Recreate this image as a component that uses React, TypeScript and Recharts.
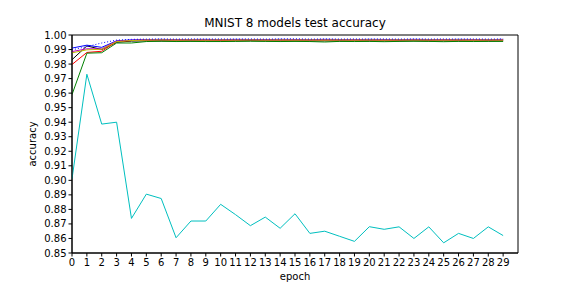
import { LineChart, Line, XAxis, YAxis, ReferenceArea } from 'recharts';

const epochs = Array.from({ length: 30 }, (_, i) => i);

const blueAcc = [0.991, 0.993, 0.9915, 0.996, 0.9966, 0.9968, 0.997, 0.9968, 0.9969, 0.997, 0.9968, 0.997, 0.9969, 0.9968, 0.997, 0.9969, 0.9968, 0.997, 0.9969, 0.9968, 0.997, 0.9969, 0.9968, 0.997, 0.9969, 0.9968, 0.997, 0.9969, 0.9968, 0.997];
const blueDotAcc = [0.9898, 0.992, 0.9945, 0.9965, 0.997, 0.9972, 0.9973, 0.9972, 0.9973, 0.9972, 0.9973, 0.9972, 0.9973, 0.9972, 0.9973, 0.9974, 0.9972, 0.9973, 0.9972, 0.9973, 0.9972, 0.9973, 0.9972, 0.9973, 0.9972, 0.9973, 0.9972, 0.9973, 0.9972, 0.9973];
const blackAcc = [0.983, 0.9925, 0.99, 0.995, 0.9958, 0.996, 0.9959, 0.996, 0.9959, 0.996, 0.9959, 0.996, 0.9961, 0.996, 0.9959, 0.996, 0.9959, 0.996, 0.9959, 0.996, 0.9959, 0.996, 0.9959, 0.996, 0.9959, 0.996, 0.9959, 0.996, 0.9959, 0.996];
const redAcc = [0.9797, 0.988, 0.9888, 0.9955, 0.9962, 0.9964, 0.9965, 0.9964, 0.9965, 0.9964, 0.9963, 0.9964, 0.9965, 0.9964, 0.9965, 0.9964, 0.9965, 0.9964, 0.9965, 0.9964, 0.9965, 0.9963, 0.9964, 0.9965, 0.9964, 0.9965, 0.9964, 0.9965, 0.9964, 0.9965];
const greenAcc = [0.959, 0.9875, 0.9878, 0.9945, 0.9945, 0.9955, 0.9957, 0.9955, 0.9956, 0.9955, 0.9955, 0.9956, 0.9957, 0.9956, 0.9955, 0.9956, 0.9955, 0.9952, 0.9956, 0.9955, 0.9956, 0.9954, 0.9956, 0.9957, 0.9956, 0.9954, 0.9956, 0.9955, 0.9956, 0.9956];
const yellowAcc = [0.9877, 0.9898, 0.9902, 0.9955, 0.9962, 0.9965, 0.9966, 0.9965, 0.9966, 0.9965, 0.9966, 0.9965, 0.9966, 0.9965, 0.9966, 0.9965, 0.9966, 0.9965, 0.9966, 0.9965, 0.9966, 0.9965, 0.9966, 0.9965, 0.9966, 0.9965, 0.9966, 0.9965, 0.9966, 0.9965];
const magentaAcc = [0.9886, 0.9905, 0.9905, 0.9958, 0.9964, 0.9966, 0.9967, 0.9966, 0.9967, 0.9966, 0.9967, 0.9966, 0.9967, 0.9966, 0.9967, 0.9966, 0.9967, 0.9966, 0.9967, 0.9966, 0.9967, 0.9966, 0.9967, 0.9966, 0.9967, 0.9966, 0.9967, 0.9966, 0.9967, 0.9966];
const cyanAcc = [0.901, 0.973, 0.9387, 0.940, 0.8738, 0.8905, 0.8875, 0.8605, 0.872, 0.872, 0.8835, 0.8764, 0.8688, 0.8747, 0.867, 0.877, 0.8635, 0.865, 0.8615, 0.858, 0.8681, 0.8663, 0.868, 0.860, 0.868, 0.857, 0.8635, 0.860, 0.868, 0.862];

const yTicks = [0.85, 0.86, 0.87, 0.88, 0.89, 0.9, 0.91, 0.92, 0.93, 0.94, 0.95, 0.96, 0.97, 0.98, 0.99, 1.0];

const data = epochs.map((e, i) => ({
  epoch: e,
  cyan: cyanAcc[i],
  green: greenAcc[i],
  magenta: magentaAcc[i],
  yellow: yellowAcc[i],
  red: redAcc[i],
  black: blackAcc[i],
  blue: blueAcc[i],
  blueDot: blueDotAcc[i],
}));

const FONT = 'DejaVu Sans, sans-serif';
const tick = { fontSize: 10, fill: '#000', fontFamily: FONT };

export default function App() {
  return (
    <div style={{ position: 'absolute', left: 0, top: 0, width: 576, height: 288, background: '#fff', fontFamily: FONT }}>
      <div style={{ position: 'absolute', left: 72, width: 446, top: 16, textAlign: 'center', fontSize: 12, lineHeight: '14px' }}>
        MNIST 8 models test accuracy
      </div>
      <div style={{ position: 'absolute', left: 295 - 40, width: 80, top: 271, textAlign: 'center', fontSize: 10, lineHeight: '12px' }}>
        epoch
      </div>
      <div style={{ position: 'absolute', left: 33 - 40, width: 80, top: 144 - 6, textAlign: 'center', fontSize: 10, lineHeight: '12px', transform: 'rotate(-90deg)' }}>
        accuracy
      </div>
      <LineChart width={576} height={288} data={data} margin={{ top: 35, right: 58, bottom: 5, left: 22 }}>
        <XAxis dataKey="epoch" type="number" domain={[0, 30]} ticks={epochs} interval={0} allowDataOverflow
          tick={tick} tickSize={3.5} tickMargin={2} height={30} stroke="#000" />
        <YAxis type="number" domain={[0.85, 1.0]} ticks={yTicks} interval={0} allowDataOverflow
          tickFormatter={(v: number) => v.toFixed(2)} tick={tick} tickSize={3.5} tickMargin={2} width={50} stroke="#000" />
        <Line dataKey="cyan" stroke="#00bfbf" strokeWidth={1} dot={false} isAnimationActive={false} />
        <Line dataKey="black" stroke="#000000" strokeWidth={1} dot={false} isAnimationActive={false} />
        <Line dataKey="blue" stroke="#0000ff" strokeWidth={1} dot={false} isAnimationActive={false} />
        <Line dataKey="red" stroke="#ff0000" strokeWidth={1} dot={false} isAnimationActive={false} />
        <Line dataKey="magenta" stroke="#bf00bf" strokeWidth={1} dot={false} isAnimationActive={false} />
        <Line dataKey="yellow" stroke="#bfbf00" strokeWidth={1} dot={false} isAnimationActive={false} />
        <Line dataKey="green" stroke="#008000" strokeWidth={1} dot={false} isAnimationActive={false} />
        <Line dataKey="blueDot" stroke="#0000ff" strokeWidth={1} strokeDasharray="1 2" dot={false} isAnimationActive={false} />
        <ReferenceArea x1={0} x2={30} y1={0.85} y2={1.0} fill="none" stroke="#000" strokeWidth={1} ifOverflow="visible" />
      </LineChart>
    </div>
  );
}
